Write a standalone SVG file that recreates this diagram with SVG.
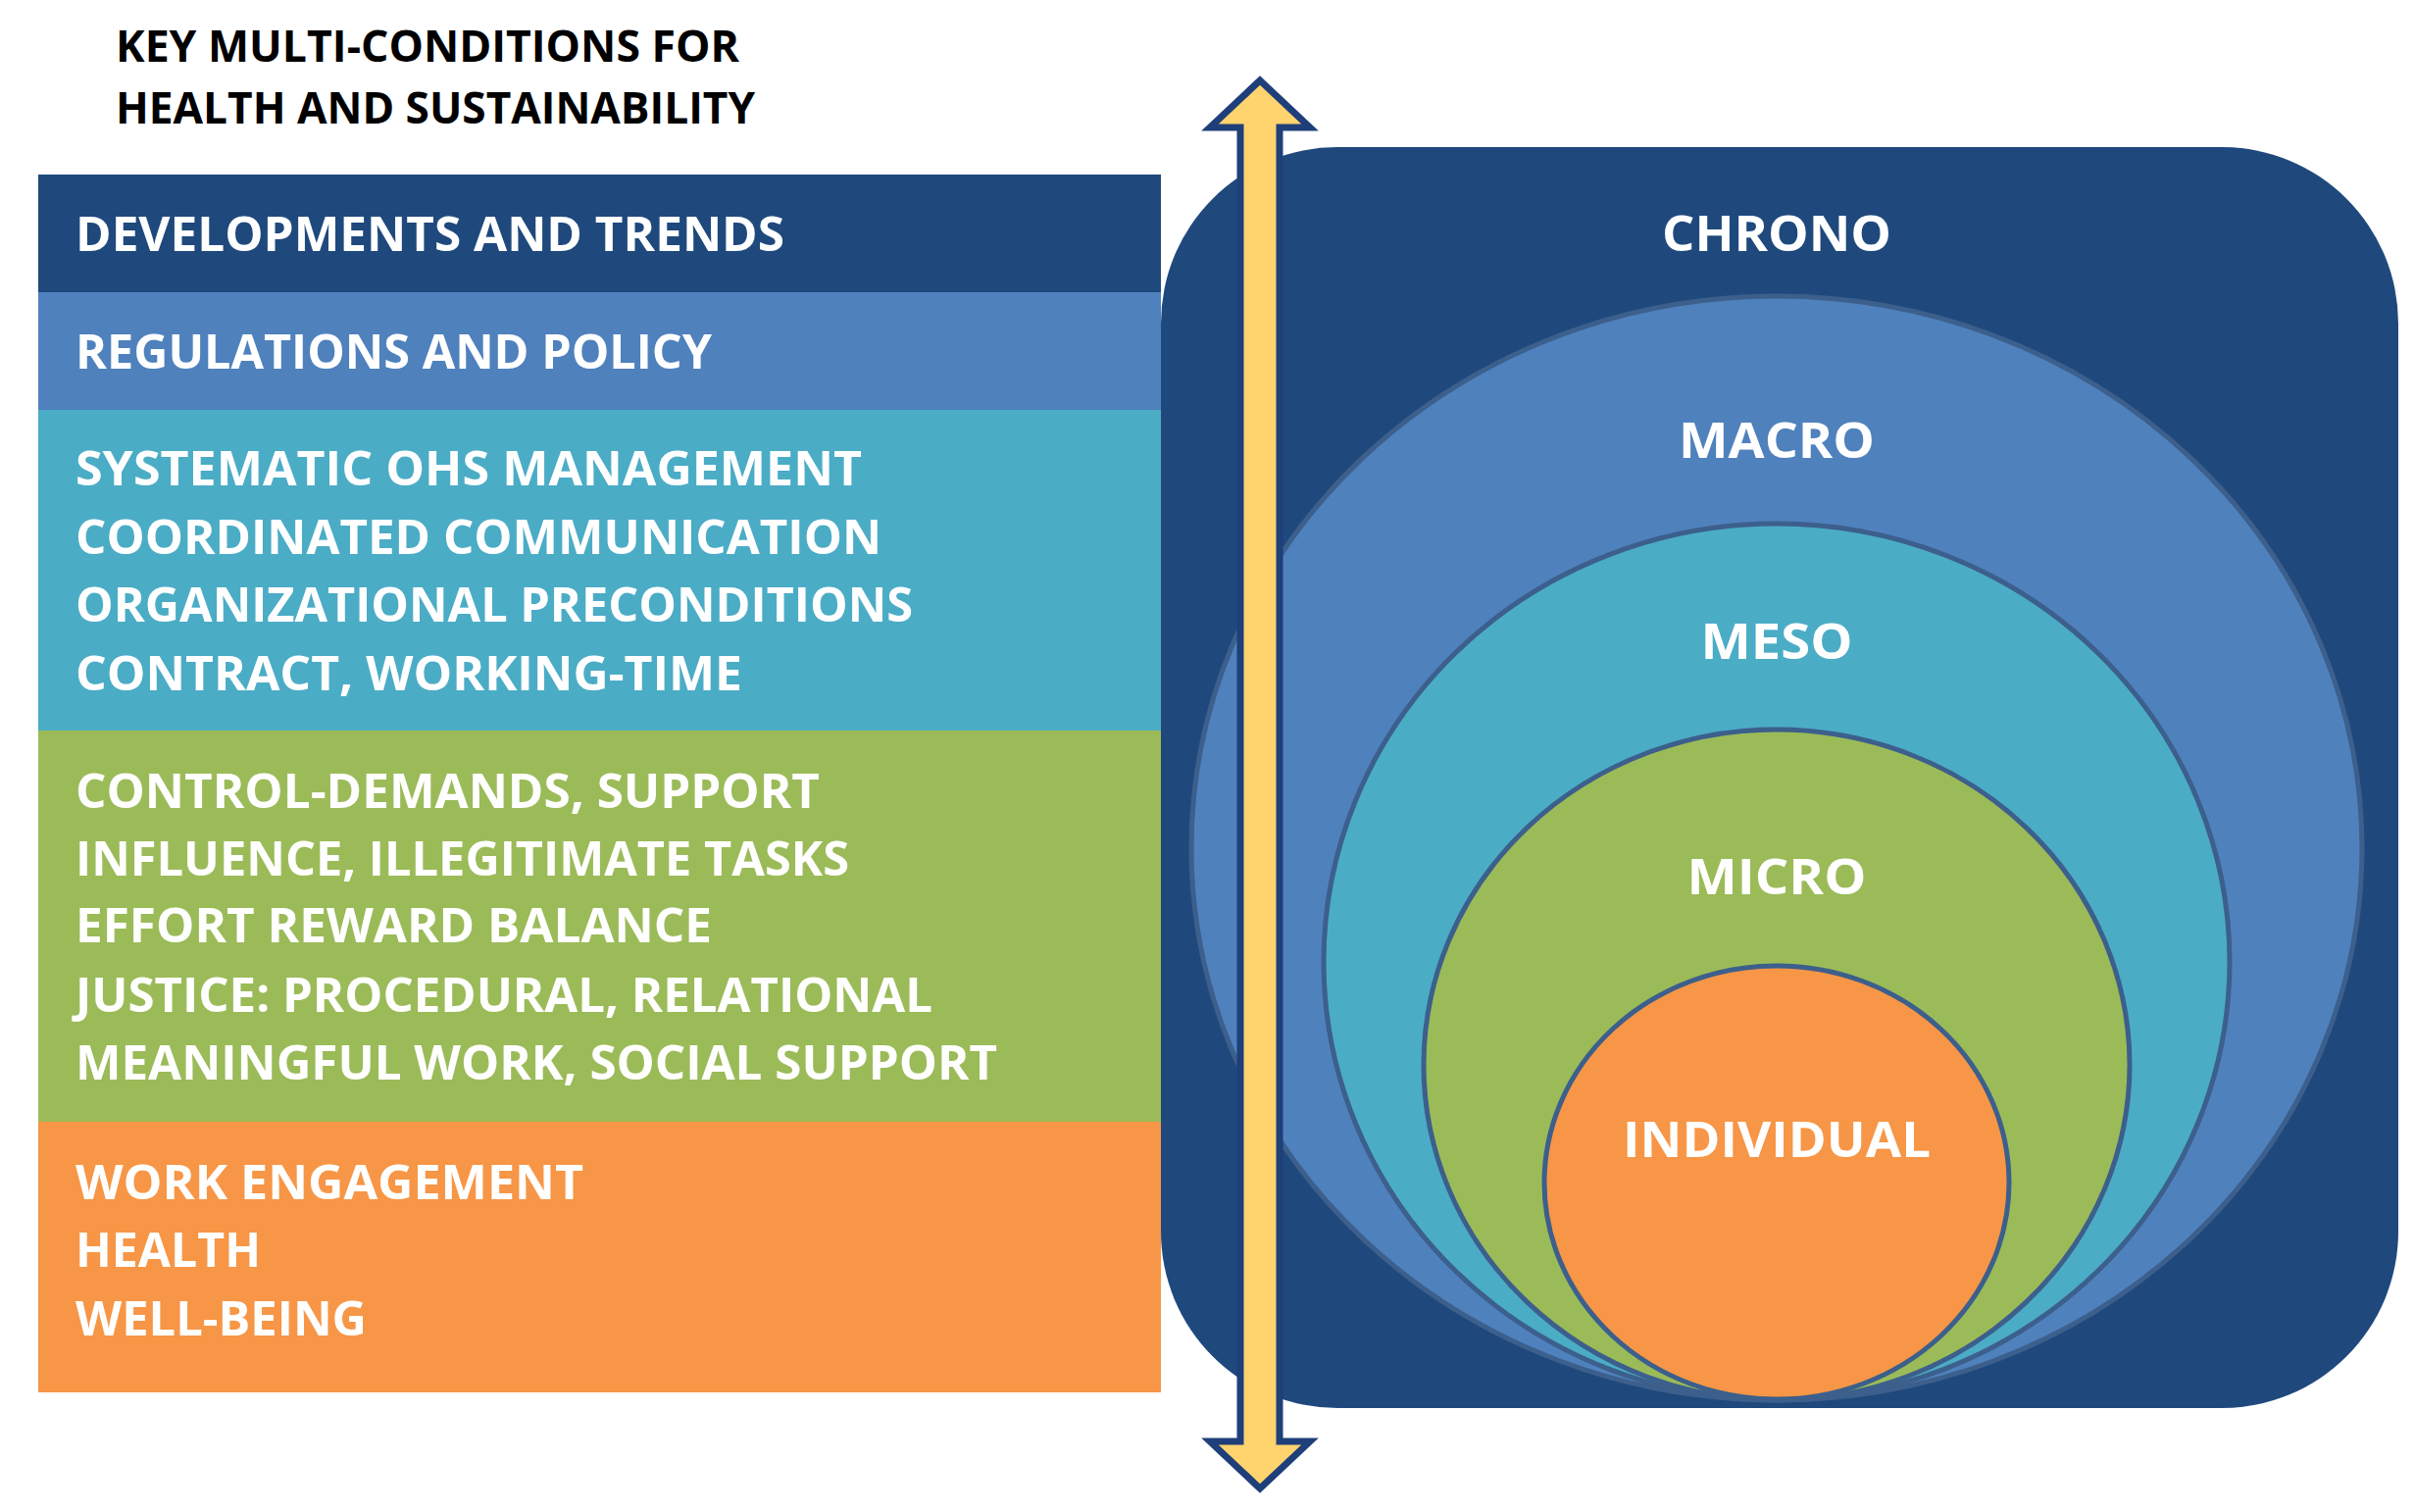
<svg xmlns="http://www.w3.org/2000/svg" width="2462" height="1542" viewBox="0 0 2462 1542">
<style>
.t{font-family:"Open Sans","Liberation Sans",sans-serif;font-weight:bold;font-size:48px;fill:#fff}
.h{font-family:"Open Sans","Liberation Sans",sans-serif;font-weight:bold;font-size:44px;fill:#000}
.c{font-family:"Open Sans","Liberation Sans",sans-serif;font-weight:bold;font-size:50px;fill:#fff;text-anchor:middle}
.ring{stroke:#3C5F8C;stroke-width:5}
</style>
<rect width="2462" height="1542" fill="#fff"/>
<g id="title">
<text class="h" x="118" y="63" textLength="636" lengthAdjust="spacingAndGlyphs">KEY MULTI-CONDITIONS FOR</text>
<text class="h" x="118" y="126" textLength="652" lengthAdjust="spacingAndGlyphs">HEALTH AND SUSTAINABILITY</text>
</g>
<g id="row-trends">
<rect x="39" y="178" width="1145" height="120" fill="#1F497D"/>
<text class="t" x="77" y="256" textLength="723" lengthAdjust="spacingAndGlyphs">DEVELOPMENTS AND TRENDS</text>
</g>
<g id="row-policy">
<rect x="39" y="298" width="1145" height="120" fill="#4F81BD"/>
<text class="t" x="77" y="376" textLength="649" lengthAdjust="spacingAndGlyphs">REGULATIONS AND POLICY</text>
</g>
<g id="row-org">
<rect x="39" y="418" width="1145" height="327" fill="#4BACC6"/>
<text class="t" x="77" y="495" textLength="802" lengthAdjust="spacingAndGlyphs">SYSTEMATIC OHS MANAGEMENT</text>
<text class="t" x="77" y="565" textLength="822" lengthAdjust="spacingAndGlyphs">COORDINATED COMMUNICATION</text>
<text class="t" x="77" y="634" textLength="854" lengthAdjust="spacingAndGlyphs">ORGANIZATIONAL PRECONDITIONS</text>
<text class="t" x="77" y="704" textLength="680" lengthAdjust="spacingAndGlyphs">CONTRACT, WORKING-TIME</text>
</g>
<g id="row-work">
<rect x="39" y="745" width="1145" height="399" fill="#9BBB59"/>
<text class="t" x="77" y="824" textLength="759" lengthAdjust="spacingAndGlyphs">CONTROL-DEMANDS, SUPPORT</text>
<text class="t" x="77" y="893" textLength="789" lengthAdjust="spacingAndGlyphs">INFLUENCE, ILLEGITIMATE TASKS</text>
<text class="t" x="77" y="961" textLength="649" lengthAdjust="spacingAndGlyphs">EFFORT REWARD BALANCE</text>
<text class="t" x="77" y="1032" textLength="874" lengthAdjust="spacingAndGlyphs">JUSTICE: PROCEDURAL, RELATIONAL</text>
<text class="t" x="77" y="1101" textLength="940" lengthAdjust="spacingAndGlyphs">MEANINGFUL WORK, SOCIAL SUPPORT</text>
</g>
<g id="row-individual">
<rect x="39" y="1144" width="1145" height="276" fill="#F79646"/>
<text class="t" x="77" y="1223" textLength="518" lengthAdjust="spacingAndGlyphs">WORK ENGAGEMENT</text>
<text class="t" x="77" y="1292" textLength="189" lengthAdjust="spacingAndGlyphs">HEALTH</text>
<text class="t" x="77" y="1362" textLength="297" lengthAdjust="spacingAndGlyphs">WELL-BEING</text>
</g>
<g id="chrono">
<rect x="1184" y="150" width="1262" height="1286" rx="180" ry="180" fill="#1F497D"/>
<text class="c" x="1812" y="256" textLength="234" lengthAdjust="spacingAndGlyphs">CHRONO</text>
</g>
<g id="macro">
<ellipse class="ring" cx="1812" cy="865" rx="597" ry="563" fill="#4F81BD"/>
<text class="c" x="1812" y="467" textLength="200" lengthAdjust="spacingAndGlyphs">MACRO</text>
</g>
<g id="meso">
<ellipse class="ring" cx="1812" cy="981" rx="462" ry="447" fill="#4BACC6"/>
<text class="c" x="1812" y="672" textLength="155" lengthAdjust="spacingAndGlyphs">MESO</text>
</g>
<g id="micro">
<ellipse class="ring" cx="1812" cy="1086" rx="360" ry="342" fill="#9BBB59"/>
<text class="c" x="1812" y="912" textLength="183" lengthAdjust="spacingAndGlyphs">MICRO</text>
</g>
<g id="individual">
<ellipse class="ring" cx="1812" cy="1206" rx="237" ry="221" fill="#F79646"/>
<text class="c" x="1812" y="1180" textLength="314" lengthAdjust="spacingAndGlyphs">INDIVIDUAL</text>
</g>
<g id="connectors">
<path d="M1285 82 L1336 130 L1305 130 L1305 1470 L1336 1470 L1285 1518 L1234 1470 L1265 1470 L1265 130 L1234 130 Z" fill="#FFD36E" stroke="#1F3F7A" stroke-width="7" stroke-linejoin="miter"/>
</g>
</svg>
